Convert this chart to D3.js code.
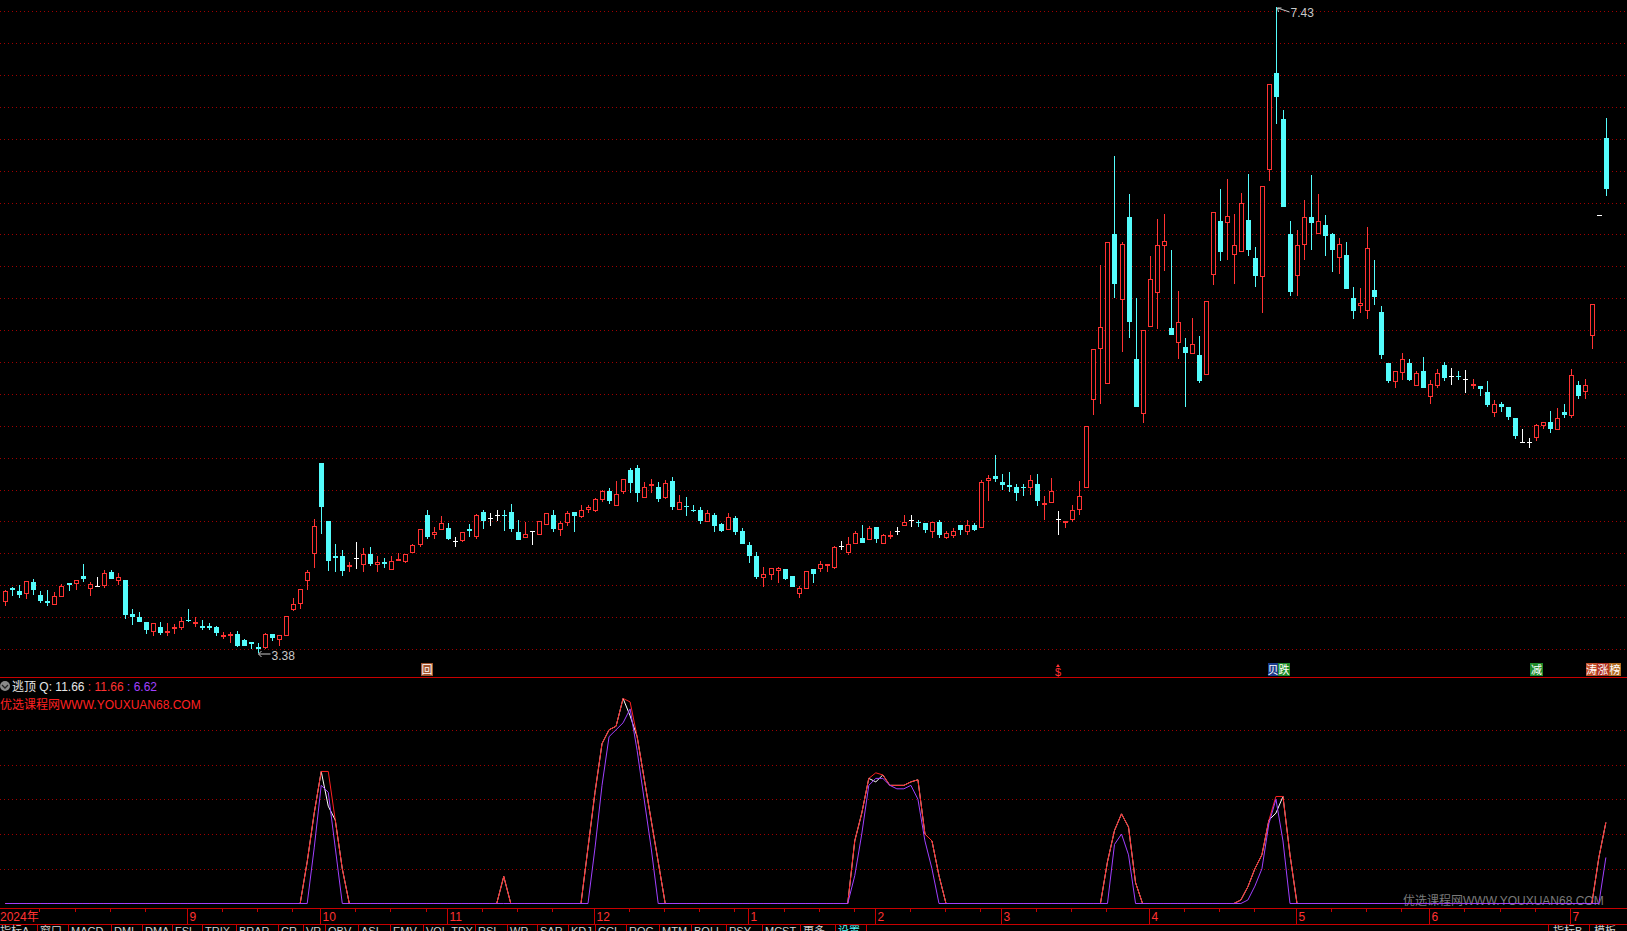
<!DOCTYPE html>
<html><head><meta charset="utf-8">
<script src="https://cdn.jsdelivr.net/npm/d3@7"></script>
<style>
html,body{margin:0;padding:0;background:#000;overflow:hidden}
svg{display:block}
text{font-family:"Liberation Sans","Noto Sans CJK SC",sans-serif}
</style></head><body>
<svg id="c" width="1627" height="931"></svg>
<script>
// ---------------- DATA ----------------
const openP=[3.694,3.782,3.761,3.746,3.818,3.736,3.698,3.675,3.728,3.811,3.809,3.857,3.776,3.795,3.795,3.880,3.826,3.830,3.619,3.598,
3.567,3.506,3.535,3.506,3.527,3.531,3.584,3.556,3.546,3.546,3.535,3.474,3.483,3.497,3.458,3.447,3.410,3.408,3.495,3.458,
3.483,3.642,3.682,3.826,3.995,4.569,4.201,3.985,3.985,3.912,3.968,3.926,3.998,3.926,3.947,3.895,3.951,3.945,4.002,4.054,
4.238,4.117,4.148,4.158,4.079,4.079,4.152,4.100,4.258,4.219,4.238,4.240,4.258,4.133,4.098,4.138,4.117,4.179,4.238,4.148,
4.188,4.258,4.229,4.275,4.265,4.336,4.390,4.298,4.383,4.521,4.538,4.348,4.423,4.419,4.348,4.452,4.273,4.300,4.275,4.275,
4.198,4.238,4.183,4.148,4.221,4.138,4.052,3.983,3.848,3.865,3.888,3.902,3.858,3.748,3.779,3.902,3.900,3.919,3.906,4.044,
4.000,4.058,4.096,4.085,4.165,4.058,4.104,4.140,4.173,4.210,4.198,4.190,4.135,4.196,4.094,4.110,4.177,4.135,4.177,4.160,
4.454,4.483,4.446,4.427,4.415,4.419,4.408,4.433,4.304,4.313,4.215,4.194,4.210,4.273,4.410,4.962,5.281,5.060,6.002,5.586,
6.109,5.221,4.873,5.417,5.630,5.930,5.415,5.317,5.296,5.248,5.246,5.117,5.748,6.084,6.069,5.869,5.888,6.090,5.850,5.732,
6.406,7.013,6.724,6.002,5.738,5.932,6.107,6.005,6.057,6.000,5.850,5.869,5.600,5.550,5.517,5.650,5.515,5.196,5.073,5.130,
5.196,5.048,5.146,4.980,5.048,5.184,5.113,5.115,5.094,5.048,5.050,5.015,4.882,4.934,4.915,4.846,4.700,4.700,4.725,4.800,
4.825,4.775,4.884,4.863,5.053,5.013,5.363,6.120,6.605];
const highP=[3.767,3.788,3.799,3.828,3.836,3.761,3.767,3.755,3.805,3.811,3.834,3.931,3.822,3.849,3.893,3.897,3.874,3.834,3.648,3.633,
3.567,3.565,3.567,3.560,3.554,3.602,3.648,3.602,3.585,3.560,3.546,3.508,3.506,3.510,3.464,3.447,3.435,3.502,3.495,3.485,
3.608,3.721,3.778,3.893,4.213,4.569,4.201,4.056,4.018,3.947,4.069,4.031,4.037,3.981,3.968,3.981,4.000,3.998,4.060,4.150,
4.271,4.163,4.233,4.188,4.100,4.131,4.183,4.246,4.275,4.250,4.275,4.275,4.308,4.208,4.196,4.138,4.200,4.250,4.269,4.202,
4.263,4.258,4.302,4.302,4.346,4.396,4.408,4.452,4.469,4.538,4.556,4.450,4.465,4.448,4.463,4.477,4.369,4.352,4.306,4.288,
4.269,4.252,4.188,4.252,4.235,4.156,4.069,4.008,3.915,3.906,3.917,3.902,3.858,3.798,3.888,3.902,3.952,3.931,4.046,4.077,
4.100,4.140,4.177,4.171,4.165,4.121,4.140,4.165,4.240,4.240,4.210,4.190,4.196,4.210,4.140,4.158,4.177,4.210,4.190,4.458,
4.490,4.615,4.496,4.508,4.433,4.433,4.490,4.496,4.360,4.471,4.265,4.206,4.302,4.452,4.800,5.281,5.808,5.956,6.490,5.950,
6.252,5.600,5.400,5.865,6.096,6.127,5.902,5.646,5.352,5.477,5.365,5.582,6.138,6.288,6.346,6.127,6.263,6.377,5.921,6.307,
6.942,7.430,6.780,6.084,6.027,6.215,6.371,6.252,6.121,6.007,5.977,5.952,5.671,5.663,6.044,5.838,5.552,5.196,5.146,5.259,
5.221,5.146,5.234,5.090,5.159,5.203,5.165,5.146,5.152,5.096,5.050,5.078,4.959,4.952,4.915,4.852,4.777,4.725,4.811,4.825,
4.896,4.909,4.934,5.159,5.078,5.096,5.563,6.120,6.730];
const lowP=[3.669,3.732,3.719,3.711,3.736,3.686,3.669,3.675,3.728,3.763,3.769,3.820,3.732,3.788,3.782,3.839,3.799,3.587,3.550,3.569,
3.497,3.481,3.487,3.481,3.497,3.518,3.567,3.537,3.518,3.518,3.481,3.462,3.435,3.412,3.418,3.397,3.378,3.401,3.449,3.416,
3.483,3.638,3.650,3.769,3.908,4.121,3.889,3.883,3.857,3.883,3.901,3.883,3.920,3.883,3.908,3.895,3.951,3.939,4.002,4.042,
4.092,4.092,4.148,4.083,4.042,4.073,4.100,4.088,4.152,4.171,4.204,4.142,4.133,4.083,4.098,4.054,4.117,4.179,4.133,4.110,
4.171,4.133,4.223,4.252,4.261,4.323,4.308,4.298,4.373,4.379,4.323,4.348,4.379,4.323,4.342,4.271,4.273,4.233,4.258,4.185,
4.194,4.133,4.133,4.148,4.113,4.060,3.942,3.842,3.792,3.833,3.817,3.833,3.792,3.723,3.779,3.817,3.883,3.883,3.900,4.020,
3.990,4.058,4.065,4.085,4.065,4.058,4.090,4.115,4.173,4.165,4.165,4.127,4.096,4.096,4.090,4.096,4.115,4.115,4.140,4.160,
4.327,4.448,4.398,4.385,4.329,4.360,4.367,4.298,4.208,4.313,4.117,4.160,4.194,4.242,4.410,4.867,4.935,5.060,5.604,5.265,
5.352,4.915,4.815,5.417,5.405,5.773,5.367,5.221,4.915,5.248,5.067,5.117,5.686,5.836,5.842,5.692,5.888,5.867,5.673,5.505,
6.337,6.694,6.173,5.617,5.617,5.842,5.905,6.005,5.867,5.767,5.755,5.655,5.467,5.505,5.473,5.555,5.221,5.067,5.036,5.086,
5.080,5.048,5.036,4.936,5.036,5.080,5.055,5.086,5.005,5.030,4.986,4.917,4.857,4.886,4.838,4.717,4.700,4.663,4.707,4.782,
4.755,4.775,4.848,4.848,4.967,4.967,5.284,6.120,6.241];
const closeP=[3.765,3.767,3.736,3.828,3.767,3.700,3.686,3.730,3.797,3.801,3.834,3.839,3.809,3.795,3.878,3.839,3.849,3.613,3.600,3.569,
3.518,3.565,3.500,3.516,3.535,3.577,3.582,3.569,3.531,3.531,3.500,3.485,3.495,3.418,3.418,3.430,3.397,3.495,3.468,3.485,
3.608,3.684,3.778,3.885,4.169,4.288,3.951,3.968,3.889,3.928,3.968,3.998,3.933,3.947,3.933,3.954,3.966,3.998,4.054,4.150,
4.104,4.131,4.188,4.092,4.079,4.131,4.142,4.238,4.202,4.219,4.238,4.236,4.152,4.083,4.119,4.138,4.200,4.250,4.152,4.188,
4.256,4.235,4.275,4.290,4.338,4.390,4.327,4.375,4.469,4.442,4.379,4.419,4.438,4.340,4.440,4.290,4.325,4.292,4.267,4.204,
4.250,4.173,4.142,4.231,4.135,4.060,3.985,3.854,3.869,3.906,3.908,3.840,3.792,3.783,3.888,3.873,3.933,3.931,4.038,4.044,
4.056,4.125,4.065,4.156,4.090,4.115,4.115,4.140,4.194,4.210,4.192,4.148,4.196,4.115,4.127,4.140,4.148,4.177,4.148,4.446,
4.475,4.465,4.429,4.417,4.379,4.413,4.458,4.329,4.315,4.394,4.215,4.206,4.275,4.362,4.800,5.281,5.419,5.956,5.692,5.938,
5.452,4.915,5.400,5.719,5.932,5.957,5.367,5.450,5.255,5.313,5.080,5.582,6.138,5.892,6.119,5.932,6.200,5.905,5.742,6.307,
6.942,6.864,6.173,5.642,5.932,6.107,6.073,6.082,5.992,5.905,5.938,5.655,5.517,5.569,5.913,5.605,5.246,5.084,5.146,5.221,
5.086,5.134,5.036,5.065,5.132,5.098,5.113,5.105,5.094,5.063,5.030,4.930,4.934,4.917,4.857,4.736,4.700,4.700,4.803,4.825,
4.780,4.850,4.867,5.119,4.986,5.053,5.563,6.120,6.285];

// indicator 逃顶: Q (white), line 2 (red), line 3 (purple); rows of 10 values
const redLine=[
0,0,0,0,0,0,0,0,0,0,  0,0,0,0,0,0,0,0,0,0,
0,0,0,0,0,0,0,0,0,0,  0,0,0,0,0,0,0,0,0,0,
0,0,0,6,13,19,19,12,5,0,  0,0,0,0,0,0,0,0,0,0,
0,0,0,0,0,0,0,0,0,0,  0,3.9,0,0,0,0,0,0,0,0,
0,0,0,8,16,23,25,25.5,29.5,29,  24,18,12,6,0,0,0,0,0,0,
0,0,0,0,0,0,0,0,0,0,  0,0,0,0,0,0,0,0,0,0,
0,9,13,18,18.8,18.5,17,17,17,17.5,  17.8,10,9,4,0,0,0,0,0,0,
0,0,0,0,0,0,0,0,0,0,  0,0,0,0,0,0,0,6,10.5,12.9,
11,3,0,0,0,0,0,0,0,0,  0,0,0,0,0,0,0.5,2.4,5,7,
12,15.4,15.4,7,0,0,0,0,0,0,  0,0,0,0,0,0,0,0,0,0,
0,0,0,0,0,0,0,0,0,0,  0,0,0,0,0,0,0,0,0,0,
0,0,0,0,0,0,0,6.62,11.66];
const purpleLine=[
0,0,0,0,0,0,0,0,0,0,  0,0,0,0,0,0,0,0,0,0,
0,0,0,0,0,0,0,0,0,0,  0,0,0,0,0,0,0,0,0,0,
0,0,0,0,8,17,16,8,0,0,  0,0,0,0,0,0,0,0,0,0,
0,0,0,0,0,0,0,0,0,0,  0,0,0,0,0,0,0,0,0,0,
0,0,0,0,8,17,24,25,26,28,  22,15,8,0,0,0,0,0,0,0,
0,0,0,0,0,0,0,0,0,0,  0,0,0,0,0,0,0,0,0,0,
0,4,10,17,18,18,17,16.5,16.5,17,  15,9,5,0,0,0,0,0,0,0,
0,0,0,0,0,0,0,0,0,0,  0,0,0,0,0,0,0,0,8.5,10,
7,0,0,0,0,0,0,0,0,0,  0,0,0,0,0,0,0,0.5,2.5,5,
11.5,15,9,0,0,0,0,0,0,0,  0,0,0,0,0,0,0,0,0,0,
0,0,0,0,0,0,0,0,0,0,  0,0,0,0,0,0,0,0,0,0,
0,0,0,0,0,0,0,0,6.62];
const qLine=redLine.slice(); // Q coincides with the red line except near some peaks
qLine[46]=14; qLine[89]=27; qLine[124]=17.5; qLine[181]=13;

const priceGrid=[3.4,3.6,3.8,4.0,4.2,4.4,4.6,4.8,5.0,5.2,5.4,5.6,5.8,6.0,6.2,6.4,6.6,6.8,7.0,7.2,7.4];
const indGrid=[5,10,15,20,25];
const monthTicks=[{i:0,label:"2024年"},{i:26,label:"9"},{i:45,label:"10"},{i:63,label:"11"},{i:84,label:"12"},
{i:106,label:"1"},{i:124,label:"2"},{i:142,label:"3"},{i:163,label:"4"},{i:184,label:"5"},{i:203,label:"6"},{i:223,label:"7"}];
const highLabel={i:181,text:"7.43"}, lowLabel={i:36,text:"3.38"};
const signals=[{i:60,kind:"hui"},{i:150,kind:"dollar"},{i:181,kind:"beidie"},{i:218,kind:"jian"},{i:226,kind:"bang"}];
const toolbarTabs=["指标A","窗口","MACD","DMI","DMA","FSL","TRIX","BRAR","CR","VR","OBV","ASI","EMV","VOL-TDX","RSI","WR","SAR","KDJ","CCI","ROC","MTM","BOLL","PSY","MCST","更多","设置"];
const toolbarRight=["指标B","模板"];
const header={name:"逃顶",q:"11.66",r:"11.66",p:"6.62"};

// ---------------- DRAW ----------------
const W=1627,H=931;
const RED="#ff3232", CYAN="#54fcfc", AXIS="#c80000", GRID="#a00000", PURPLE="#a040ff";
const svg=d3.select("#c");
svg.append("rect").attr("width",W).attr("height",H).attr("fill","#000");
const N=closeP.length;
const x=d3.scaleLinear().domain([0,N-1]).range([5.33,5.33+7.02*(N-1)]);
const y=d3.scaleLinear().domain([3.4,7.4]).range([649,11.3]);
const yi=d3.scaleLinear().domain([0,30]).range([903.5,903.5-30*6.95]);

// price grid
svg.append("g").selectAll("line").data(priceGrid).join("line")
 .attr("x1",0).attr("x2",W).attr("y1",d=>Math.round(y(d))+0.5).attr("y2",d=>Math.round(y(d))+0.5)
 .attr("stroke",GRID).attr("stroke-dasharray","1,3");
// indicator grid
svg.append("g").selectAll("line").data(indGrid).join("line")
 .attr("x1",0).attr("x2",W).attr("y1",d=>Math.round(yi(d))+0.5).attr("y2",d=>Math.round(yi(d))+0.5)
 .attr("stroke",GRID).attr("stroke-dasharray","1,3");

// candles
const cg=svg.append("g").attr("shape-rendering","crispEdges");
for(let i=0;i<N;i++){
  const o=openP[i],h=highP[i],l=lowP[i],c=closeP[i];
  const cx=Math.round(x(i));
  const col=c>o?RED:(c<o?CYAN:"#ffffff");
  const top=Math.round(y(Math.max(o,c))), bot=Math.round(y(Math.min(o,c)));
  const yh=Math.round(y(h)), yl=Math.round(y(l));
  if(c>o){
    if(yh<top) cg.append("line").attr("x1",cx+0.5).attr("x2",cx+0.5).attr("y1",yh).attr("y2",top).attr("stroke",col);
    if(yl>bot) cg.append("line").attr("x1",cx+0.5).attr("x2",cx+0.5).attr("y1",bot).attr("y2",yl).attr("stroke",col);
    cg.append("rect").attr("x",cx-1.5).attr("y",top+0.5).attr("width",4).attr("height",Math.max(1,bot-top-1))
      .attr("fill","#000").attr("stroke",col);
  } else if(c<o){
    if(yl>yh) cg.append("line").attr("x1",cx+0.5).attr("x2",cx+0.5).attr("y1",yh).attr("y2",yl).attr("stroke",col);
    cg.append("rect").attr("x",cx-2).attr("y",top).attr("width",5).attr("height",Math.max(1,bot-top)).attr("fill",col);
  } else {
    if(yl>yh) cg.append("line").attr("x1",cx+0.5).attr("x2",cx+0.5).attr("y1",yh).attr("y2",yl).attr("stroke",col);
    cg.append("line").attr("x1",cx-2).attr("x2",cx+3).attr("y1",top+0.5).attr("y2",top+0.5).attr("stroke",col);
  }
}

// high / low labels
const LBL="#c8c8c8";
{
  const hx=Math.round(x(highLabel.i))+0.5, hy=Math.round(y(highP[highLabel.i]));
  svg.append("path").attr("d",`M${hx+13},${hy+5} L${hx+1},${hy+1} M${hx+1},${hy+1} l4,0 M${hx+1},${hy+1} l1,4`).attr("stroke",LBL).attr("fill","none");
  svg.append("text").attr("x",hx+14).attr("y",hy+10).attr("fill",LBL).attr("font-size",12).text(highLabel.text);
  const lx=Math.round(x(lowLabel.i))+0.5, ly=Math.round(y(lowP[lowLabel.i]));
  svg.append("path").attr("d",`M${lx+12},${ly+1} L${lx},${ly+1} M${lx},${ly+1} l3,-3 M${lx},${ly+1} l3,3`).attr("stroke",LBL).attr("fill","none");
  svg.append("text").attr("x",lx+13).attr("y",ly+7).attr("fill",LBL).attr("font-size",12).text(lowLabel.text);
}

// signal icons (row above separator)
const sg=svg.append("g");
function box(x0,w,fill,txt,tcol){
  sg.append("rect").attr("x",x0).attr("y",663).attr("width",w).attr("height",13).attr("fill",fill);
  sg.append("text").attr("x",x0+w/2).attr("y",674).attr("text-anchor","middle").attr("font-size",11)
    .attr("fill",tcol||"#fff").text(txt);
}
signals.forEach(s=>{
  const sx=Math.round(x(s.i));
  if(s.kind==="hui"){ box(sx-6,12,"#a0522d","回"); }
  if(s.kind==="dollar"){
    sg.append("path").attr("d",`M${sx-2},${667} l2,-3 l2,3 z`).attr("fill",RED);
    sg.append("text").attr("x",sx).attr("y",676).attr("text-anchor","middle").attr("font-size",11).attr("fill",RED).text("$");
  }
  if(s.kind==="beidie"){ box(sx-8,10,"#1a3a8a","贝"); box(sx+2,12,"#1f8a2a","跌"); }
  if(s.kind==="jian"){ box(sx-6,13,"#1f8a2a","减"); }
  if(s.kind==="bang"){ box(sx-6,11,"#c0502a","涛"); box(sx+5,12,"#b03020","涨"); box(sx+17,12,"#b06a20","榜"); }
});

// separator main / indicator
svg.append("line").attr("x1",0).attr("x2",W).attr("y1",677.5).attr("y2",677.5).attr("stroke",AXIS);

// indicator header
svg.append("circle").attr("cx",5).attr("cy",686).attr("r",5).attr("fill","#8a8a8a");
svg.append("path").attr("d","M2,685 L5,688 L8,685").attr("stroke","#222").attr("fill","none").attr("stroke-width",1.3);
const ht=svg.append("text").attr("x",12).attr("y",691).attr("font-size",12);
ht.append("tspan").attr("fill","#e6e6e6").text(header.name+" ");
ht.append("tspan").attr("fill","#e6e6e6").text("Q: "+header.q+" ");
ht.append("tspan").attr("fill",RED).text(": "+header.r+" ");
ht.append("tspan").attr("fill",PURPLE).text(": "+header.p);
svg.append("text").attr("x",0).attr("y",709).attr("font-size",12).attr("fill","#ff2020").text("优选课程网WWW.YOUXUAN68.COM");
// watermark
svg.append("text").attr("x",1403).attr("y",905).attr("font-size",12).attr("fill","#7a7a7a").text("优选课程网WWW.YOUXUAN68.COM");

// indicator lines
const ln=d3.line().x((d,i)=>x(i)).y(d=>yi(d));
svg.append("path").datum(qLine).attr("d",ln).attr("stroke","#ffffff").attr("fill","none");
svg.append("path").datum(redLine).attr("d",ln).attr("stroke","#ff2020").attr("fill","none");
svg.append("path").datum(purpleLine).attr("d",ln).attr("stroke",PURPLE).attr("fill","none");

// date axis
svg.append("line").attr("x1",0).attr("x2",W).attr("y1",908.5).attr("y2",908.5).attr("stroke",AXIS);
svg.append("line").attr("x1",0).attr("x2",W).attr("y1",924.5).attr("y2",924.5).attr("stroke",AXIS);
const ag=svg.append("g");
monthTicks.forEach((m,k)=>{
  const mx=Math.round(x(m.i))-0.5;
  if(m.i>0) ag.append("line").attr("x1",mx).attr("x2",mx).attr("y1",909).attr("y2",924).attr("stroke",AXIS);
  ag.append("text").attr("x",m.i>0?mx+2:0).attr("y",921).attr("font-size",12).attr("fill",RED).text(m.label);
  const next=k+1<monthTicks.length?monthTicks[k+1].i:N;
  for(let j=m.i+5;j<next-1;j+=5){
    const tx=Math.round(x(j))-0.5;
    ag.append("line").attr("x1",tx).attr("x2",tx).attr("y1",909).attr("y2",912).attr("stroke",AXIS);
  }
});

// toolbar (bottom strip, its lower half is outside the window as in the reference)
const seps=[0,37,68,111,142,172,202,236,278,303,325,358,390,423,475,507,537,568,595,626,659,691,726,762,800,835,866];
const tg=svg.append("g");
toolbarTabs.forEach((t,k)=>{
  const w=seps[k+1]-seps[k]-5;
  const tx=tg.append("text").attr("x",seps[k]+(k===0?0:3)).attr("y",935).attr("font-size",11)
    .attr("fill",t==="设置"?CYAN:"#d0d0d0").text(t);
  if(tx.node().getComputedTextLength()>w) tx.attr("textLength",w).attr("lengthAdjust","spacingAndGlyphs");
});
seps.slice(1).forEach(s=>tg.append("line").attr("x1",s+0.5).attr("x2",s+0.5).attr("y1",925).attr("y2",931).attr("stroke",AXIS));
[1548,1589].forEach((s,k)=>{
  tg.append("line").attr("x1",s+0.5).attr("x2",s+0.5).attr("y1",925).attr("y2",931).attr("stroke",AXIS);
  tg.append("text").attr("x",s+5).attr("y",935).attr("font-size",11).attr("fill","#d0d0d0").text(toolbarRight[k]);
});
</script>
</body></html>
